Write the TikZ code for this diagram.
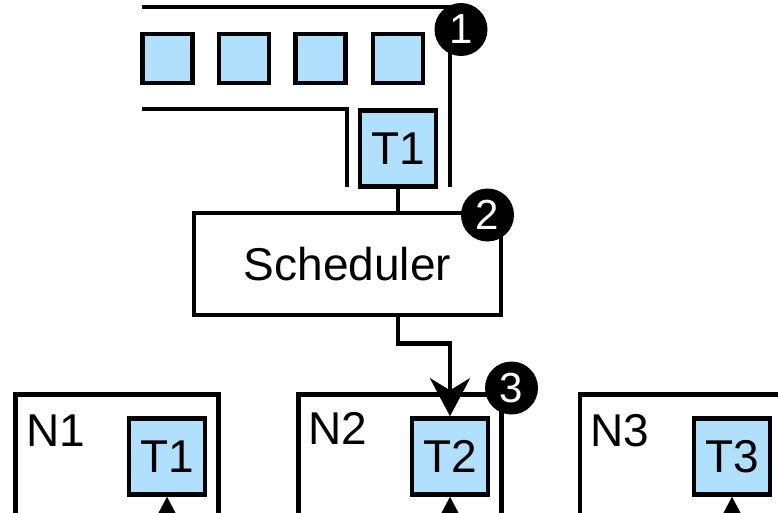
\documentclass[tikz,border=0pt]{standalone}
\usepackage{fontspec}
\setmainfont{Liberation Sans}
\usetikzlibrary{arrows.meta}
\definecolor{taskblue}{RGB}{176,224,252}
\tikzset{
  lw/.style={line width=4.5pt},
  task/.style={draw, lw, fill=taskblue, minimum width=76pt, minimum height=76pt,
    inner sep=0pt, font=\fontsize{46}{50}\selectfont},
  slot/.style={draw, lw, fill=taskblue, minimum width=50pt, minimum height=49pt, inner sep=0pt},
  machine/.style={draw, lw, minimum width=203pt, minimum height=220pt, inner sep=0pt},
  lbl/.style={inner sep=0pt, font=\fontsize{46}{50}\selectfont},
  badge/.style={circle, fill=black, text=white, minimum size=53pt, inner sep=0pt,
    font=\fontsize{42}{44}\selectfont},
  wire/.style={draw, lw},
  arr/.style={wire, -{Stealth[length=38pt,width=40pt,inset=12pt]}},
  rarr/.style={wire, {Stealth[length=38pt,width=40pt,inset=12pt]}-},
}
\begin{document}
\begin{tikzpicture}[x=1pt,y=-1pt]
  \useasboundingbox (0,0) rectangle (778,513);
  \clip (0,0) rectangle (778,513);

  % waiting queue
  \draw[wire] (142,7) -| (450,187);
  \draw[wire] (142,109) -| (347,187);
  \node[slot] (q1) at (167.5,58.5) {};
  \node[slot] (q2) at (244,58.5) {};
  \node[slot] (q3) at (320.5,58.5) {};
  \node[slot] (q4) at (398,58.5) {};
  \node[task] (tq) at (398,148.5) {T1};

  % scheduler
  \node[draw, lw, minimum width=307pt, minimum height=102pt, inner sep=0pt,
        font=\fontsize{46}{50}\selectfont] (sched) at (347.5,264) {Scheduler};
  \draw[wire] (tq.south) -- (tq.south |- sched.north);

  % nodes of the cluster
  \node[machine, anchor=north west] (n1) at (13,392) {};
  \node[machine, anchor=north west] (n2) at (296,392) {};
  \node[machine, anchor=north west, minimum width=240pt] (n3) at (577.5,392) {};
  \node[lbl, anchor=base west] (n1l) at (26.5,446) {N1};
  \node[lbl, anchor=base west] (n2l) at (308.5,444) {N2};
  \node[lbl, anchor=base west] (n3l) at (590.5,446) {N3};
  \node[task] (t1) at (167,456.5) {T1};
  \node[task] (t2) at (450,456.5) {T2};
  \node[task] (t3) at (732,456.5) {T3};

  % dispatch arrow
  \coordinate (out) at (tq.south |- sched.south);
  \draw[arr] (out) -- ++(0,26) -| (t2.north);

  % incoming arrows from below
  \coordinate (b1) at (167,540);
  \coordinate (b2) at (450,540);
  \coordinate (b3) at (732,540);
  \draw[rarr] (t1.south) -- (b1);
  \draw[rarr] (t2.south) -- (b2);
  \draw[rarr] (t3.south) -- (b3);

  % step markers
  \node[badge] (s1) at (461,29.5) {1};
  \node[badge] (s2) at (487.5,215) {2};
  \node[badge] (s3) at (511.5,388) {3};
\end{tikzpicture}
\end{document}
